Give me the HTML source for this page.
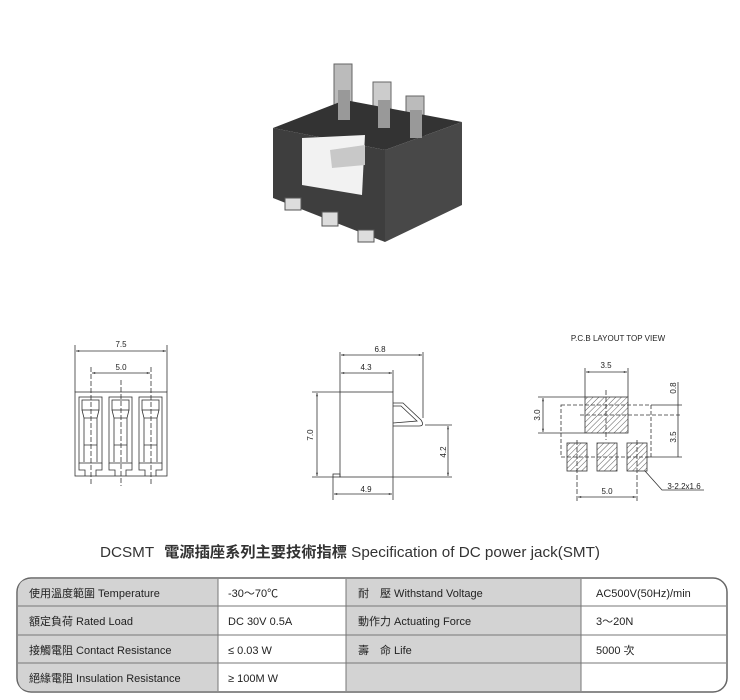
<!DOCTYPE html>
<html><head><meta charset="utf-8"><style>
body{margin:0;background:#fff;width:740px;height:700px;overflow:hidden;font-family:"Liberation Sans","Noto Sans CJK TC",sans-serif}
svg{position:absolute;left:0;top:0}
</style></head><body>
<svg width="740" height="700" viewBox="0 0 740 700" xmlns="http://www.w3.org/2000/svg" font-family="Liberation Sans, Noto Sans CJK TC, sans-serif">
<defs>
<pattern id="h" width="4" height="4" patternUnits="userSpaceOnUse" patternTransform="rotate(45)"><line x1="0" y1="0" x2="0" y2="4" stroke="#333" stroke-width="0.8"/></pattern>
<marker id="a" viewBox="0 0 10 10" refX="10" refY="5" markerWidth="5" markerHeight="4" orient="auto-start-reverse"><path d="M0,2 L10,5 L0,8z" fill="#333"/></marker>
</defs>
<!-- photo -->
<g>
<rect x="334" y="64" width="18" height="48" fill="#bbb" stroke="#666"/>
<rect x="373" y="82" width="18" height="45" fill="#ccc" stroke="#666"/>
<rect x="406" y="96" width="18" height="40" fill="#bbb" stroke="#666"/>
<polygon points="273,128 345,100 462,122 385,150" fill="#333"/>
<polygon points="273,128 385,150 385,242 273,198" fill="#3e3e3e"/>
<polygon points="385,150 462,122 462,205 385,242" fill="#484848"/>
<rect x="338" y="90" width="12" height="30" fill="#999"/>
<rect x="378" y="100" width="12" height="28" fill="#999"/>
<rect x="410" y="110" width="12" height="28" fill="#999"/>
<polygon points="302,138 365,135 362,195 302,185" fill="#f2f2f2"/>
<polygon points="330,150 365,145 365,165 332,168" fill="#c8c8c8"/>
<rect x="285" y="198" width="16" height="12" fill="#ddd" stroke="#555"/>
<rect x="322" y="212" width="16" height="14" fill="#ddd" stroke="#555"/>
<rect x="358" y="230" width="16" height="12" fill="#ddd" stroke="#555"/>
</g>
<g stroke="#333" stroke-width="0.8" fill="none">
<!-- front view -->
<rect x="75" y="392" width="92" height="84"/>
<line x1="75" y1="392" x2="75" y2="345"/><line x1="167" y1="392" x2="167" y2="345"/>
<line x1="76" y1="351" x2="166" y2="351" marker-start="url(#a)" marker-end="url(#a)"/>
<line x1="91" y1="367" x2="91" y2="486" stroke-dasharray="5,2"/><line x1="121" y1="380" x2="121" y2="486" stroke-dasharray="5,2"/><line x1="151" y1="367" x2="151" y2="486" stroke-dasharray="5,2"/>
<line x1="92" y1="373" x2="150" y2="373" marker-start="url(#a)" marker-end="url(#a)"/>
<g id="s"><rect x="79" y="397" width="23" height="66"/><rect x="82" y="400" width="17" height="10"/><path d="M82,410 L84,418 L97,418 L99,410 M84,418 L84,445 L97,445 L97,418 M84,445 L84,462 M97,445 L97,462 M79,463 L79,470 L85,470 L85,476 M102,463 L102,470 L96,470 L96,476"/></g>
<use href="#s" x="30"/><use href="#s" x="60"/>
<!-- side view -->
<rect x="340" y="392" width="53" height="85"/>
<path d="M393,403 L403,403 L421,420 Q425,426 419,426 L393,426"/>
<path d="M393,406 L401,406 L417,421 L393,423"/>
<rect x="333" y="474" width="7" height="3"/>
<line x1="340" y1="392" x2="340" y2="352"/><line x1="423" y1="418" x2="423" y2="352"/><line x1="393" y1="392" x2="393" y2="370"/>
<line x1="341" y1="355" x2="422" y2="355" marker-start="url(#a)" marker-end="url(#a)"/>
<line x1="341" y1="373" x2="392" y2="373" marker-start="url(#a)" marker-end="url(#a)"/>
<line x1="312" y1="392" x2="340" y2="392"/><line x1="312" y1="477" x2="333" y2="477"/>
<line x1="317" y1="393" x2="317" y2="476" marker-start="url(#a)" marker-end="url(#a)"/>
<line x1="425" y1="425" x2="452" y2="425"/><line x1="393" y1="477" x2="452" y2="477"/>
<line x1="448" y1="426" x2="448" y2="476" marker-start="url(#a)" marker-end="url(#a)"/>
<line x1="333" y1="477" x2="333" y2="500"/><line x1="393" y1="477" x2="393" y2="500"/>
<line x1="334" y1="494" x2="392" y2="494" marker-start="url(#a)" marker-end="url(#a)"/>
<!-- pcb -->
<rect x="561" y="405" width="90" height="52" stroke-dasharray="4,2"/>
<line x1="580" y1="415" x2="680" y2="415" stroke-dasharray="4,2"/>
<line x1="651" y1="405" x2="682" y2="405"/><line x1="646" y1="457" x2="682" y2="457"/>
<rect x="585" y="397" width="43" height="36" fill="url(#h)"/>
<rect x="567" y="443" width="20" height="28" fill="url(#h)"/>
<rect x="597" y="443" width="20" height="28" fill="url(#h)"/>
<rect x="627" y="443" width="20" height="28" fill="url(#h)"/>
<line x1="606" y1="390" x2="606" y2="440" stroke-dasharray="5,2"/>
<line x1="577" y1="440" x2="577" y2="502" stroke-dasharray="5,2"/><line x1="637" y1="440" x2="637" y2="502" stroke-dasharray="5,2"/>
<line x1="585" y1="397" x2="585" y2="368"/><line x1="628" y1="397" x2="628" y2="368"/>
<line x1="586" y1="372" x2="627" y2="372" marker-start="url(#a)" marker-end="url(#a)"/>
<line x1="538" y1="397" x2="585" y2="397"/><line x1="538" y1="433" x2="585" y2="433"/>
<line x1="543" y1="398" x2="543" y2="432" marker-start="url(#a)" marker-end="url(#a)"/>
<line x1="678" y1="382" x2="678" y2="457"/>
<line x1="578" y1="497" x2="636" y2="497" marker-start="url(#a)" marker-end="url(#a)"/>
<path d="M645,471 L662,490 L704,490"/>
</g>
<g font-size="8" fill="#222" text-anchor="middle">
<text x="121" y="347">7.5</text><text x="121" y="370">5.0</text>
<text x="380" y="352">6.8</text><text x="366" y="370">4.3</text><text x="366" y="492">4.9</text>
<text transform="translate(313,435) rotate(-90)">7.0</text>
<text transform="translate(446,452) rotate(-90)">4.2</text>
<text x="618" y="341">P.C.B LAYOUT TOP VIEW</text>
<text x="606" y="368">3.5</text><text x="607" y="494">5.0</text>
<text transform="translate(540,415) rotate(-90)">3.0</text>
<text transform="translate(676,388) rotate(-90)">0.8</text>
<text transform="translate(676,437) rotate(-90)">3.5</text>
<text x="684" y="489">3-2.2x1.6</text>
</g>
<text x="100" y="557" font-size="15" fill="#333" textLength="500" lengthAdjust="spacingAndGlyphs">DCSMT <tspan font-weight="bold" dx="6">電源插座系列主要技術指標</tspan> Specification of DC power jack(SMT)</text>
<!-- table -->
<g>
<rect x="17" y="578" width="710" height="114" rx="14" fill="#fff" stroke="#666" stroke-width="1.5"/>
<path d="M218,579 L31,579 Q18,579 18,592 L18,678 Q18,691 31,691 L218,691z" fill="#d3d3d3"/>
<rect x="346" y="579" width="235" height="112" fill="#d3d3d3"/>
<g stroke="#777" stroke-width="1"><line x1="18" y1="606" x2="726" y2="606"/><line x1="18" y1="635" x2="726" y2="635"/><line x1="18" y1="663" x2="726" y2="663"/>
<line x1="218" y1="579" x2="218" y2="691"/><line x1="346" y1="579" x2="346" y2="691"/><line x1="581" y1="579" x2="581" y2="691"/></g>
<g font-size="11" fill="#222">
<text x="29" y="597">使用溫度範圍 Temperature</text><text x="228" y="597">-30～70℃</text><text x="358" y="597">耐　壓 Withstand Voltage</text><text x="596" y="597">AC500V(50Hz)/min</text>
<text x="29" y="625">額定負荷 Rated Load</text><text x="228" y="625">DC 30V 0.5A</text><text x="358" y="625">動作力 Actuating Force</text><text x="596" y="625">3～20N</text>
<text x="29" y="654">接觸電阻 Contact Resistance</text><text x="228" y="654">≤ 0.03 W</text><text x="358" y="654">壽　命 Life</text><text x="596" y="654">5000 次</text>
<text x="29" y="682">絕緣電阻 Insulation Resistance</text><text x="228" y="682">≥ 100M W</text>
</g>
</g>
</svg>
</body></html>
